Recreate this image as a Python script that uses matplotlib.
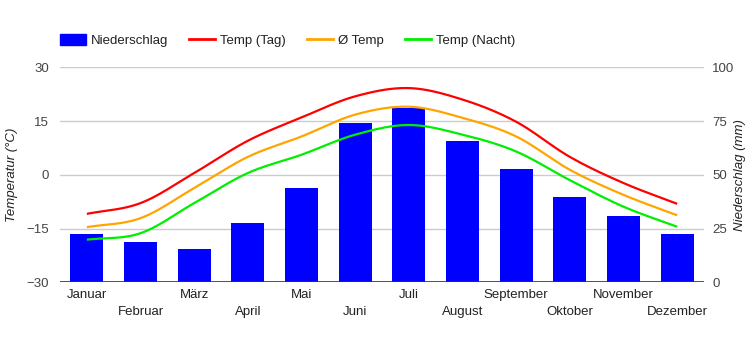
import numpy as np
import matplotlib
matplotlib.use("Agg")
import matplotlib.pyplot as plt
from matplotlib.patches import Patch
from matplotlib.lines import Line2D

plt.rcParams['font.family'] = ['Liberation Sans', 'DejaVu Sans']

# Daten
monate = ['Januar', 'Februar', 'März', 'April', 'Mai', 'Juni', 'Juli',
          'August', 'September', 'Oktober', 'November', 'Dezember']
niederschlag = [22.5, 18.8, 15.5, 27.7, 44.0, 73.9, 81.0, 65.9, 52.9, 39.8, 30.9, 22.5]
temp_tag = [-10.9, -7.9, 0.5, 9.5, 16.0, 21.9, 24.2, 21.0, 14.8, 5.0, -2.3, -8.1]
temp_mittel = [-14.6, -12.1, -3.7, 5.0, 10.7, 16.8, 19.0, 15.9, 10.7, 1.4, -5.6, -11.3]
temp_nacht = [-18.1, -16.3, -7.9, 0.5, 5.6, 11.2, 13.9, 11.2, 6.5, -1.5, -8.9, -14.5]


def glatt(x, y, n=20):
    # Catmull-Rom Kurve durch die Punkte
    x = np.asarray(x, float)
    y = np.asarray(y, float)
    px = np.concatenate([[2 * x[0] - x[1]], x, [2 * x[-1] - x[-2]]])
    py = np.concatenate([[2 * y[0] - y[1]], y, [2 * y[-1] - y[-2]]])
    xs, ys = [], []
    t = np.linspace(0, 1, n, endpoint=False)
    for i in range(1, len(px) - 2):
        for p, out in ((px, xs), (py, ys)):
            p0, p1, p2, p3 = p[i - 1], p[i], p[i + 1], p[i + 2]
            out.extend(0.5 * (2 * p1 + (-p0 + p2) * t
                              + (2 * p0 - 5 * p1 + 4 * p2 - p3) * t ** 2
                              + (-p0 + 3 * p1 - 3 * p2 + p3) * t ** 3))
    xs.append(x[-1])
    ys.append(y[-1])
    return np.array(xs), np.array(ys)


fig = plt.figure(figsize=(7.5, 3.5), dpi=100)
ax = fig.add_axes([0.08, 0.1934, 0.8587, 0.6143])
ax2 = ax.twinx()

x = np.arange(len(monate))

ax2.bar(x, niederschlag, width=0.615, color='#0000ff', zorder=2)
ax2.set_ylim(0, 100)
ax2.set_yticks([0, 25, 50, 75, 100])

ax.set_zorder(ax2.get_zorder() + 1)
ax.patch.set_visible(False)
for werte, farbe in ((temp_tag, '#ff0000'), (temp_mittel, '#ffa500'), (temp_nacht, '#00ee00')):
    gx, gy = glatt(x, werte)
    ax.plot(gx, gy, color=farbe, lw=1.6, solid_capstyle='butt')

ax.set_ylim(-30, 30)
ax.set_yticks([-30, -15, 0, 15, 30])
ax.set_xlim(-0.5, len(monate) - 0.5)
ax.set_xticks([])
for i, m in enumerate(monate):
    ax.text(i, -33.5 if i % 2 == 0 else -38.2, m, ha='center', va='center',
            fontsize=9.5, color='#222222')

for a in (ax, ax2):
    for s in a.spines.values():
        s.set_visible(False)
ax.tick_params(length=0, labelsize=9.5, labelcolor='#444444', pad=8)
ax2.tick_params(length=0, labelsize=9.5, labelcolor='#444444', pad=6)
for v in [-15, 0, 15, 30]:
    ax2.axhline((v + 30) / 60 * 100, color='#cccccc', lw=1, zorder=0)
ax.axhline(-30, color='#333333', lw=1.2)

ax.set_ylabel('Temperatur (°C)', fontsize=9.5, style='italic', color='#222222', labelpad=6)
fig.text(740 / 750, 0.5, 'Niederschlag (mm)', rotation=90, ha='center', va='center',
         fontsize=9.5, style='italic', color='#222222')

handles = [Patch(color='#0000ff', label='Niederschlag'),
           Line2D([], [], color='#ff0000', lw=2, label='Temp (Tag)'),
           Line2D([], [], color='#ffa500', lw=2, label='Ø Temp'),
           Line2D([], [], color='#00ee00', lw=2, label='Temp (Nacht)')]
fig.legend(handles=handles, loc='center left', bbox_to_anchor=(0.08, 0.884), ncol=4,
           frameon=False, fontsize=9.5, handlelength=1.95, handleheight=0.9,
           handletextpad=0.4, columnspacing=1.6, borderpad=0, borderaxespad=0,
           labelcolor='#222222')

fig.savefig('out.png', dpi=100)
